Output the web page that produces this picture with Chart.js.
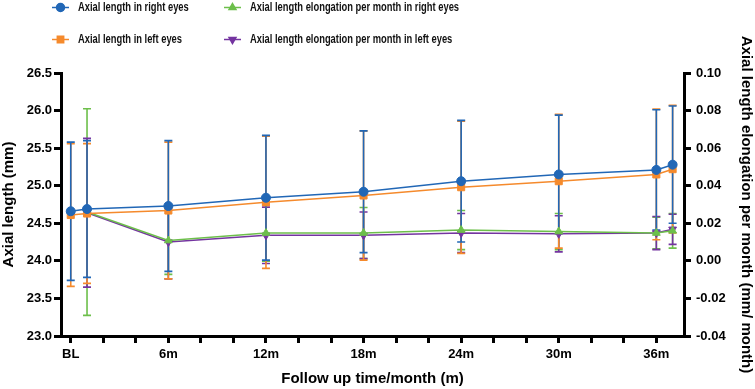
<!DOCTYPE html>
<html>
<head>
<meta charset="utf-8">
<script src="https://cdn.jsdelivr.net/npm/chart.js@4.4.1/dist/chart.umd.min.js"></script>
<style>
  html, body { margin: 0; padding: 0; background: #fff; }
  #wrap { position: relative; width: 755px; height: 389px; }
</style>
</head>
<body>
<div id="wrap"><canvas id="chart" width="755" height="389"></canvas></div>
<script>
// months of follow up (BL = 0)
const months = [0, 1, 6, 12, 18, 24, 30, 36, 37];
const elongMonths = [1, 6, 12, 18, 24, 30, 36, 37];
const xTickValues = [0, 2, 4, 6, 8, 10, 12, 14, 16, 18, 20, 22, 24, 26, 28, 30, 32, 34, 36];

// axial length (mm), mean and SD
const alRight = [24.66, 24.69, 24.73, 24.84, 24.92, 25.06, 25.15, 25.21, 25.28];
const alRightSD = [0.92, 0.91, 0.87, 0.83, 0.81, 0.81, 0.79, 0.80, 0.78];
const alLeft = [24.61, 24.63, 24.67, 24.78, 24.87, 24.98, 25.06, 25.15, 25.22];
const alLeftSD = [0.95, 0.93, 0.91, 0.88, 0.86, 0.88, 0.89, 0.87, 0.85];

// elongation per month (mm/month), mean and SD
const elRight = [0.026, 0.0108, 0.0148, 0.0148, 0.0164, 0.0156, 0.0148, 0.0160];
const elRightSD = [0.0550, 0.018, 0.015, 0.0136, 0.0104, 0.0096, 0.0084, 0.0092];
const elLeft = [0.0256, 0.0100, 0.0136, 0.0136, 0.0148, 0.0144, 0.0148, 0.0168];
const elLeftSD = [0.0396, 0.0196, 0.015, 0.0124, 0.0104, 0.0096, 0.0088, 0.008];

const seriesNames = [
  'Axial length in right eyes',
  'Axial length in left eyes',
  'Axial length elongation per month in right eyes',
  'Axial length elongation per month in left eyes'
];

const FONT = "'Liberation Sans', Arial, Helvetica, sans-serif";
const toPoints = (xs, ys) => xs.map((x, i) => ({ x: x, y: ys[i] }));

const makeSet = (i, xs, ys, sd, color, style, axis, rot) => ({
  label: seriesNames[i],
  data: toPoints(xs, ys),
  errors: sd,
  yAxisID: axis,
  borderColor: color,
  backgroundColor: color,
  borderWidth: 1.5,
  pointStyle: style,
  pointRadius: style === 'rect' ? 5 : 4.5,
  pointRotation: rot || 0,
  pointBorderWidth: 1,
  tension: 0
});

// error bars drawn under the lines, blue on top of the others
const errorBars = {
  id: 'errorBars',
  beforeDatasetsDraw(chart) {
    const ctx = chart.ctx;
    const xs = chart.scales.x;
    [2, 3, 1, 0].forEach(i => {
      const ds = chart.data.datasets[i];
      const ys = chart.scales[ds.yAxisID];
      ctx.save();
      ctx.strokeStyle = ds.borderColor;
      ctx.lineWidth = 1.6;
      ds.data.forEach((p, k) => {
        const e = ds.errors[k];
        const x = xs.getPixelForValue(p.x);
        const t = ys.getPixelForValue(p.y + e);
        const b = ys.getPixelForValue(p.y - e);
        ctx.beginPath();
        ctx.moveTo(x, t); ctx.lineTo(x, b);
        ctx.moveTo(x - 4, t); ctx.lineTo(x + 4, t);
        ctx.moveTo(x - 4, b); ctx.lineTo(x + 4, b);
        ctx.stroke();
      });
      ctx.restore();
    });
  }
};

// two-column legend at the top
const legendSpots = [
  { ds: 0, x: 52, y: 7.5 },
  { ds: 2, x: 224, y: 7.5 },
  { ds: 1, x: 52, y: 39.5 },
  { ds: 3, x: 224, y: 39.5 }
];
const topLegend = {
  id: 'topLegend',
  afterDraw(chart) {
    const ctx = chart.ctx;
    legendSpots.forEach(s => {
      const ds = chart.data.datasets[s.ds];
      ctx.save();
      ctx.strokeStyle = ds.borderColor;
      ctx.fillStyle = ds.backgroundColor;
      ctx.lineWidth = 1.5;
      ctx.beginPath();
      ctx.moveTo(s.x, s.y); ctx.lineTo(s.x + 17, s.y);
      ctx.stroke();
      Chart.helpers.drawPoint(ctx, {
        pointStyle: ds.pointStyle,
        radius: ds.pointStyle === 'rect' ? 4.5 : 4,
        rotation: ds.pointRotation,
        borderWidth: 1
      }, s.x + 8.5, s.y);
      ctx.fillStyle = '#111';
      ctx.font = 'bold 12px ' + FONT;
      ctx.textBaseline = 'middle';
      ctx.translate(s.x + 26, s.y + 0.5);
      ctx.scale(0.78, 1);
      ctx.fillText(ds.label, 0, 0);
      ctx.restore();
    });
  }
};

const tickFont = { family: FONT, size: 13, weight: 'bold' };
const titleFont = { family: FONT, size: 15, weight: 'bold' };
const axisGrid = { drawOnChartArea: false, color: '#000', lineWidth: 3, tickLength: 7 };
const axisBorder = { display: true, color: '#000', width: 3 };

new Chart(document.getElementById('chart').getContext('2d'), {
  type: 'line',
  data: {
    datasets: [
      makeSet(0, months, alRight, alRightSD, '#2167b6', 'circle', 'y'),
      makeSet(1, months, alLeft, alLeftSD, '#f58a2c', 'rect', 'y'),
      makeSet(2, elongMonths, elRight, elRightSD, '#6dbf4b', 'triangle', 'y2'),
      makeSet(3, elongMonths, elLeft, elLeftSD, '#7434a0', 'triangle', 'y2', 180)
    ]
  },
  options: {
    responsive: false,
    animation: false,
    devicePixelRatio: 1,
    layout: { padding: { top: 73, left: 0, right: 0, bottom: 0 } },
    plugins: { legend: { display: false }, tooltip: { enabled: false } },
    scales: {
      x: {
        type: 'linear',
        min: -0.6,
        max: 37.7,
        afterBuildTicks: s => { s.ticks = xTickValues.map(v => ({ value: v })); },
        afterFit: s => { s.height = 53; },
        grid: axisGrid,
        border: axisBorder,
        ticks: {
          autoSkip: false,
          maxRotation: 0,
          padding: 4,
          color: '#000',
          font: tickFont,
          callback: v => v === 0 ? 'BL' : (v % 6 === 0 ? v + 'm' : '')
        },
        title: {
          display: true,
          text: 'Follow up time/month (m)',
          color: '#000',
          font: titleFont,
          padding: { top: 2, bottom: 1 }
        }
      },
      y: {
        position: 'left',
        min: 23.0,
        max: 26.5,
        afterFit: s => { s.width = 61; },
        grid: axisGrid,
        border: axisBorder,
        ticks: {
          stepSize: 0.5,
          padding: 2,
          color: '#000',
          font: tickFont,
          callback: v => Number(v).toFixed(1)
        },
        title: {
          display: true,
          text: 'Axial length (mm)',
          color: '#000',
          font: titleFont,
          padding: { top: 0, bottom: 0 }
        }
      },
      y2: {
        position: 'right',
        min: -0.04,
        max: 0.10,
        afterFit: s => { s.width = 71; },
        grid: axisGrid,
        border: axisBorder,
        ticks: {
          stepSize: 0.02,
          padding: 5,
          color: '#000',
          font: tickFont,
          callback: v => Number(v).toFixed(2)
        },
        title: {
          display: true,
          text: 'Axial length elongation per month (mm/ month)',
          color: '#000',
          font: titleFont,
          padding: { top: 0, bottom: 0 }
        }
      }
    }
  },
  plugins: [errorBars, topLegend]
});
</script>
</body>
</html>
